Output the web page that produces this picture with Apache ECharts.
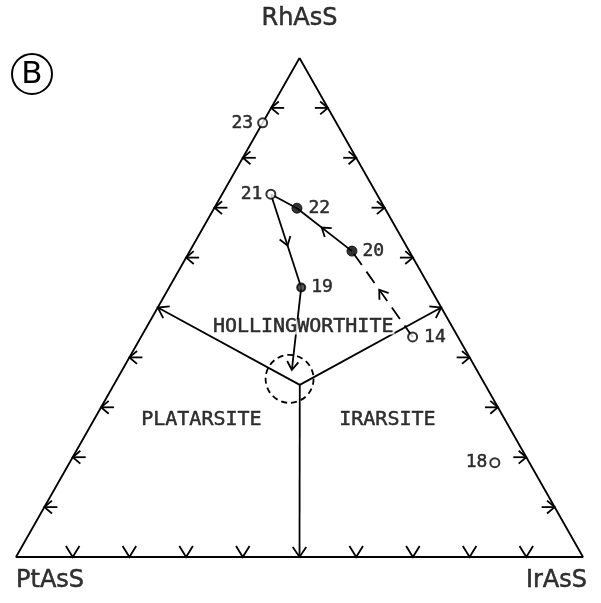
<!DOCTYPE html>
<html>
<head>
<meta charset="utf-8">
<script src="https://cdn.jsdelivr.net/npm/echarts@6/dist/echarts.min.js"></script>
<style>
  html, body { margin: 0; padding: 0; background: #fff; }
  #chart { width: 601px; height: 603px; }
</style>
</head>
<body>
<div id="chart"></div>
<script>
// Ternary diagram RhAsS – PtAsS – IrAsS (mole fractions).
const endMembers = ['RhAsS', 'PtAsS', 'IrAsS'];

// Analysed grains: RhAsS and IrAsS fractions (PtAsS is the remainder)
const sampleIds  = ['23', '21', '22', '20', '19', '14', '18'];
const sampleRh   = [0.870, 0.727, 0.699, 0.613, 0.540, 0.441, 0.189];
const sampleIr   = [0.000, 0.086, 0.146, 0.286, 0.233, 0.479, 0.750];
const sampleKind = ['open', 'open', 'solid', 'solid', 'core', 'open', 'open'];

// Phase-field boundaries meet at this composition
const junctionRh = 0.345;
const junctionIr = 0.328;
// Boundary end points on the triangle edges [Rh, Ir]
const boundaryEndRh = [0.5, 0.5, 0.0];
const boundaryEndIr = [0.0, 0.5, 0.5];

// Zoning trends between grains
const trendSolid = [['21', '19'], ['20', '22'], ['22', '21']];
const trendDashed = [['14', '20']];
const trendArrowed = ['21-19', '20-22', '14-20'];
// Trend from grain 19 into the encircled field
const trendEndRh = 0.375;
const trendEndIr = 0.299;
// Encircled composition field
const fieldRh = 0.357;
const fieldIr = 0.304;

// Edge graduations
const edgeTicks = [0.1, 0.2, 0.3, 0.4, 0.6, 0.7, 0.8, 0.9];

// Phase names
const phaseNames = ['HOLLINGWORTHITE', 'PLATARSITE', 'IRARSITE'];
const phaseRh = [0.461, 0.274, 0.274];
const phaseIr = [0.276, 0.190, 0.518];

// ---- drawing ----
const INK = '#000';
const LW = 1.8;

// ternary (Rh, Ir) -> cartesian: x runs PtAsS -> IrAsS, y towards RhAsS
function tern(rh, ir) { return [ir + rh / 2, rh]; }
function sampleXY(id) {
  const i = sampleIds.indexOf(id);
  return tern(sampleRh[i], sampleIr[i]);
}

// arrow head polyline: tip, travel direction (dx, dy), arm length, half angle
function headPts(tip, dx, dy, len, ang) {
  const bx = -dx, by = -dy;
  const c = Math.cos(ang), s = Math.sin(ang);
  return [
    [tip[0] + len * (bx * c - by * s), tip[1] + len * (bx * s + by * c)],
    tip,
    [tip[0] + len * (bx * c + by * s), tip[1] + len * (-bx * s + by * c)]
  ];
}
function unit(a, b) {
  const dx = b[0] - a[0], dy = b[1] - a[1];
  const l = Math.hypot(dx, dy) || 1;
  return [dx / l, dy / l];
}
const stroke = { stroke: INK, lineWidth: LW, fill: null };

// outline
const outline = [tern(1, 0), tern(0, 0), tern(0, 1), tern(1, 0)];

// edge graduation arrows: 0 = base (down), 1 = left edge, 2 = right edge
const tickData = [];
edgeTicks.forEach(t => tickData.push([...tern(0, t), 0]));
edgeTicks.forEach(t => tickData.push([...tern(t, 0), 1]));
edgeTicks.forEach(t => tickData.push([...tern(t, 1 - t), 2]));

const junction = tern(junctionRh, junctionIr);
const boundaryData = boundaryEndRh.map((rh, i) => [...junction, ...tern(rh, boundaryEndIr[i])]);

const segData = [];
trendSolid.forEach(([a, b]) => segData.push([...sampleXY(a), ...sampleXY(b), 0, trendArrowed.includes(a + '-' + b) ? 1 : 0, 0]));
trendDashed.forEach(([a, b]) => segData.push([...sampleXY(a), ...sampleXY(b), 1, trendArrowed.includes(a + '-' + b) ? 1 : 0, 0]));
segData.push([...sampleXY('19'), ...tern(trendEndRh, trendEndIr), 0, 0, 1]);

const labelSide = { '23': 'left', '21': 'left', '22': 'right', '20': 'right', '19': 'right', '14': 'right', '18': 'left' };
const labelGap = { '23': 4, '21': 3, '22': 6, '20': 5, '19': 5, '14': 6, '18': 2 };

function samplesOfKind(kind) {
  return sampleIds.map((id, i) => sampleKind[i] === kind ? { value: [...tern(sampleRh[i], sampleIr[i])], name: id,
    label: { position: labelSide[id], distance: labelGap[id] } } : null).filter(Boolean);
}

const heavy = { color: INK, textBorderColor: INK, textBorderWidth: 0.5 };
const numLabel = Object.assign({ show: true, formatter: '{b}', fontFamily: 'DejaVu Sans Mono', fontSize: 18 }, heavy);

const chart = echarts.init(document.getElementById('chart'));
chart.setOption({
  backgroundColor: '#fff',
  animation: false,
  grid: { left: 16, right: 18, top: 58, bottom: 46 },
  xAxis: { type: 'value', min: 0, max: 1, show: false },
  yAxis: { type: 'value', min: 0, max: 1, show: false },
  graphic: [
    { type: 'circle', shape: { cx: 32, cy: 74, r: 20 }, style: { fill: null, stroke: INK, lineWidth: 2 } },
    { type: 'text', x: 32, y: 75, style: { text: 'B', fill: INK, font: '31px "DejaVu Sans"', align: 'center', verticalAlign: 'middle' } }
  ],
  series: [
    {
      type: 'line', data: outline, symbol: 'none', silent: true, z: 2,
      lineStyle: { color: INK, width: LW }
    },
    {
      type: 'custom', z: 3, silent: true, data: tickData,
      renderItem(params, api) {
        const p = api.coord([api.value(0), api.value(1)]);
        const code = api.value(2);
        if (code === 0) {
          return { type: 'polyline', shape: { points: headPts(p, 0, 1, 13, 0.55) }, style: stroke };
        }
        const d = code === 1 ? -1 : 1;
        return { type: 'group', children: [
          { type: 'line', shape: { x1: p[0], y1: p[1], x2: p[0] - d * 13, y2: p[1] }, style: stroke },
          { type: 'polyline', shape: { points: headPts(p, d, 0, 10, 0.7) }, style: stroke }
        ] };
      }
    },
    {
      type: 'custom', z: 3, silent: true, data: boundaryData,
      renderItem(params, api) {
        const a = api.coord([api.value(0), api.value(1)]);
        const b = api.coord([api.value(2), api.value(3)]);
        const u = unit(a, b);
        return { type: 'group', children: [
          { type: 'line', shape: { x1: a[0], y1: a[1], x2: b[0], y2: b[1] }, style: stroke },
          { type: 'polyline', shape: { points: headPts(b, u[0], u[1], 12, 0.6) }, style: stroke }
        ] };
      }
    },
    {
      type: 'custom', z: 4, silent: true, data: segData,
      renderItem(params, api) {
        const a = api.coord([api.value(0), api.value(1)]);
        const b = api.coord([api.value(2), api.value(3)]);
        const dashed = api.value(4) === 1;
        const u = unit(a, b);
        const kids = [{ type: 'line', shape: { x1: a[0], y1: a[1], x2: b[0], y2: b[1] },
          style: Object.assign({}, stroke, dashed ? { lineDash: [14, 8] } : {}) }];
        if (api.value(5) === 1) {
          const m = [a[0] + (b[0] - a[0]) * 0.55, a[1] + (b[1] - a[1]) * 0.55];
          kids.push({ type: 'polyline', shape: { points: headPts(m, u[0], u[1], 10, 0.6) }, style: stroke });
        }
        if (api.value(6) === 1) {
          kids.push({ type: 'polyline', shape: { points: headPts(b, u[0], u[1], 10, 0.6) }, style: stroke });
        }
        return { type: 'group', children: kids };
      }
    },
    {
      type: 'custom', z: 4, silent: true, data: [tern(fieldRh, fieldIr)],
      renderItem(params, api) {
        const c = api.coord([api.value(0), api.value(1)]);
        return { type: 'circle', shape: { cx: c[0], cy: c[1], r: 24 },
          style: { fill: null, stroke: INK, lineWidth: LW, lineDash: [6, 4] } };
      }
    },
    {
      type: 'scatter', z: 6, silent: true, data: samplesOfKind('open'),
      symbol: 'circle', symbolSize: 9,
      itemStyle: { color: '#fff', borderColor: INK, borderWidth: 2 },
      label: numLabel
    },
    {
      type: 'scatter', z: 6, silent: true, data: samplesOfKind('solid'),
      symbol: 'circle', symbolSize: 10,
      itemStyle: { color: INK, borderColor: INK, borderWidth: 1 },
      label: numLabel
    },
    {
      type: 'scatter', z: 6, silent: true, data: samplesOfKind('core'),
      symbol: 'circle', symbolSize: 8,
      itemStyle: { color: '#333', borderColor: INK, borderWidth: 2 },
      label: numLabel
    },
    {
      type: 'scatter', z: 7, silent: true, symbolSize: 0,
      data: phaseNames.map((n, i) => ({ value: tern(phaseRh[i], phaseIr[i]), name: n })),
      label: Object.assign({ show: true, position: 'inside', formatter: '{b}',
        fontFamily: 'DejaVu Sans Mono', fontSize: 20, lineHeight: 15,
        backgroundColor: '#fff', padding: [0, 1] }, heavy)
    },
    {
      type: 'scatter', z: 7, silent: true, symbolSize: 0,
      data: [
        { value: tern(1, 0), name: endMembers[0], label: { position: [0, -39], align: 'center', verticalAlign: 'middle' } },
        { value: tern(0, 0), name: endMembers[1], label: { position: [0, 24], align: 'left', verticalAlign: 'middle' } },
        { value: tern(0, 1), name: endMembers[2], label: { position: [4, 24], align: 'right', verticalAlign: 'middle' } }
      ],
      label: Object.assign({ show: true, formatter: '{b}', fontFamily: 'DejaVu Sans', fontSize: 24 }, heavy)
    }
  ]
});
</script>
</body>
</html>
